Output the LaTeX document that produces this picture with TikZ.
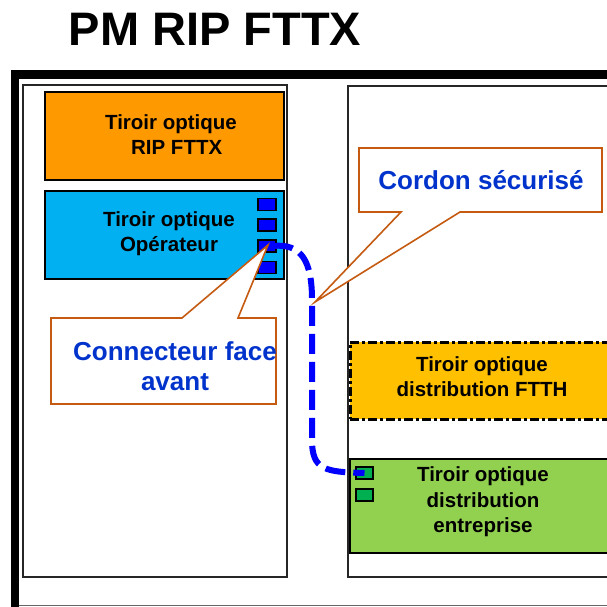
\documentclass[tikz,border=0pt]{standalone}
\usepackage{fontspec}
\setmainfont{Liberation Sans}
\definecolor{rorange}{HTML}{FF9900}
\definecolor{rcyan}{HTML}{00B0F0}
\definecolor{rgold}{HTML}{FFC000}
\definecolor{rgreen}{HTML}{92D050}
\definecolor{rdgreen}{HTML}{00B050}
\definecolor{rblue}{HTML}{0033CC}
\definecolor{rbrown}{HTML}{C55A11}
\definecolor{rcord}{HTML}{0000FF}
\begin{document}
\begin{tikzpicture}[x=1pt,y=-1pt,
  rack/.style={draw=black!85,line width=2pt,fill=white},
  drawer/.style={draw=black,line width=2pt},
  lbl/.style={font=\bfseries\fontsize{20.5}{25}\selectfont,align=center,inner sep=0pt},
  callout/.style={draw=rbrown,line width=1.6pt,fill=white},
  ctext/.style={font=\bfseries\fontsize{26}{30}\selectfont,text=rblue,align=center,inner sep=0pt},
  port/.style={draw=black,line width=1.6pt,minimum width=18pt,minimum height=12pt,inner sep=0pt},
  cord/.style={draw=rcord,line width=6pt,dash pattern=on 20pt off 8pt}]
\useasboundingbox (0,0) rectangle (606,607);
\fill[white] (0,0) rectangle (606,607);
% title
\node[anchor=base,font=\bfseries\fontsize{47}{50}\selectfont,inner sep=0pt] (title) at (215,46) {PM RIP FTTX};
% outer frame
\draw[black!60,line width=1pt] (19,605) -- (620,605);
\fill[black] (11,70) rectangle (620,79);
\fill[black] (11,70) rectangle (19,620);
% racks
\draw[rack] (23,85) rectangle (287,577);
\draw[rack] (348,86) rectangle (630,577);
\coordinate (rackL) at (23,85);
% drawers
\node[drawer,fill=rorange,minimum width=239pt,minimum height=88pt,inner sep=0pt] (orange) at (164.5,136) {};
\node[lbl] (orangetxt) at (171,134.5) {Tiroir optique\\\ \ RIP FTTX};
\node[drawer,fill=rcyan,minimum width=239pt,minimum height=88pt,inner sep=0pt] (cyan) at (164.5,235) {};
\node[lbl] (cyantxt) at (169,234) {Tiroir optique\\Opérateur};
\node[drawer,fill=rgold,dash pattern=on 9pt off 3pt on 3pt off 3pt,line width=2.5pt,minimum width=290pt,minimum height=77pt,inner sep=0pt,anchor=north west] (ftth) at (349,341) {};
\node[lbl] (ftthtxt) at (482,377) {Tiroir optique\\distribution FTTH};
\node[drawer,fill=rgreen,minimum width=290pt,minimum height=94pt,inner sep=0pt,anchor=north west] (green) at (349,458) {};
\node[lbl,font=\bfseries\fontsize{20.5}{25.5}\selectfont] (greentxt) at (483,502) {Tiroir optique\\distribution\\entreprise};
% ports
\node[port,fill=rcord] (sq1) at (267,204.5) {};
\node[port,fill=rcord] (sq2) at (267,225) {};
\node[port,fill=rcord] (sq3) at (267,246) {};
\node[port,fill=rcord] (sq4) at (267,267.5) {};
\node[port,fill=rdgreen,minimum width=17pt] (gs1) at (364.5,473) {};
\node[port,fill=rdgreen,minimum width=17pt] (gs2) at (364.5,495) {};
% cord
\draw[cord] ([xshift=6pt]sq3.center) .. controls (302,243) and (312,262) .. (312,300) -- (312,440) .. controls (312,470) and (325,472) .. (gs1.center);
% callouts
\coordinate (tip1) at (268,245);
\coordinate (tip2) at (315,302);
\draw[callout] (51,318) -- (182,318) -- (tip1) -- (238,318) -- (276,318) -- (276,404) -- (51,404) -- cycle;
\node[ctext] (c1) at (175,366) {Connecteur face\\avant};
\draw[callout] (359,148) -- (602,148) -- (602,212) -- (460,212) -- (tip2) -- (401,212) -- (359,212) -- cycle;
\node[ctext] (c2) at (481,180) {Cordon sécurisé};
\end{tikzpicture}
\end{document}
